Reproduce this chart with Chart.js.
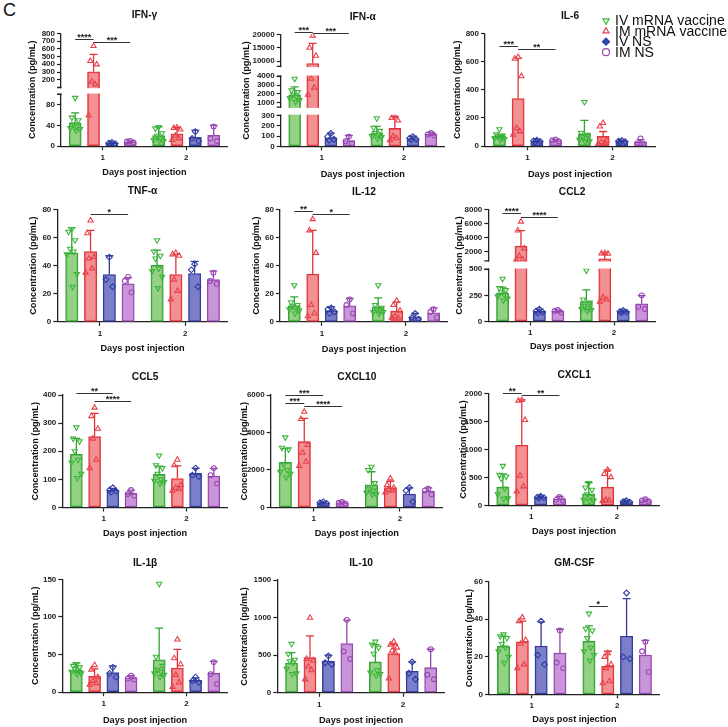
<!DOCTYPE html>
<html>
<head>
<meta charset="utf-8">
<script src="https://cdn.jsdelivr.net/npm/chart.js@4.4.1/dist/chart.umd.min.js"></script>
<style>
  html, body { margin: 0; padding: 0; background: #fff; }
  #page { position: relative; width: 728px; height: 727px; overflow: hidden; }
  #page canvas { position: absolute; }
  #tag { position: absolute; left: 3px; top: 1px; font: 18px/18px "Liberation Sans", Arial, sans-serif; color: #111; }
</style>
</head>
<body>
<div id="page"><div id="tag">C</div></div>
<script>
var FONT = '"Liberation Sans", Arial, Helvetica, sans-serif';

// groups (bar order inside each day) and x categories
var SERIES = ['IV mRNA vaccine', 'IM mRNA vaccine', 'IV NS', 'IM NS'];
var DAYS = ['1', '2'];

// values: [series][day], points: [series][day][mouse]
// stars: [from series, to series, day index, y value of the line, label]

// IFN-γ
var ifngMean = [[45, 20.6], [303, 24], [6, 17], [8, 21]];
var ifngErr = [[64, 37], [528, 36], [8, 31], [10, 40]];
var ifngPts = [
    [[93, 55, 50, 42, 38, 35, 33, 30], [37, 34, 25, 20, 15, 12, 10, 10]],
    [[636, 442, 398, 175, 140, 59], [36, 35, 32, 20, 15, 12]],
    [[7, 6, 5, 5], [28, 15, 10]],
    [[10, 9, 7], [38, 15, 10]]
];
var ifngTicks = [0, 40, 80, 200, 300, 400, 500, 600, 700, 800];
var ifngBreaks = [[0, 100], [100, 800]];
var ifngStars = [[0, 1, 0, 722, '****'], [1, 3, 0, 683, '***']];

// IFN-α
var ifnaMean = [[1900, 132], [9100, 174], [84, 77], [58, 116]];
var ifnaErr = [[2800, 194], [16600, 290], [129, 100], [106, 135]];
var ifnaPts = [
    [[3700, 2400, 2200, 1900, 1700, 1500, 1300, 1100], [272, 180, 150, 130, 110, 100, 90, 75]],
    [[19500, 15000, 12000, 3700, 2700, 1900], [290, 275, 250, 100, 80, 60]],
    [[125, 95, 70, 60], [95, 80, 70, 65]],
    [[95, 50, 30], [130, 115, 105]]
];
var ifnaTicks = [0, 100, 200, 300, 1000, 2000, 3000, 4000, 10000, 15000, 20000];
var ifnaBreaks = [[0, 300], [500, 4000], [8000, 20000]];
var ifnaStars = [[0, 1, 0, 20700, '***'], [1, 3, 0, 20600, '***']];

// IL-6
var il6Mean = [[71, 88], [337, 69], [36, 36], [40, 28]];
var il6Err = [[83, 183], [622, 104], [45, 42], [50, 47]];
var il6Pts = [
    [[120, 85, 75, 70, 65, 55, 50, 45], [313, 95, 80, 65, 55, 45, 35, 30]],
    [[632, 620, 496, 128, 105, 81], [164, 140, 40, 30, 25, 15]],
    [[42, 38, 33, 30], [40, 35, 32, 30]],
    [[48, 40, 33], [55, 20, 15]]
];
var il6Ticks = [0, 200, 400, 600, 800];
var il6Stars = [[0, 1, 0, 710, '***'], [1, 3, 0, 686, '**']];

// TNF-α
var tnfMean = [[49, 40.4], [50, 33.7], [33.7, 34.4], [27, 30]];
var tnfErr = [[67, 51], [65, 48], [47, 43], [31.5, 36]];
var tnfPts = [
    [[66, 64, 58, 52, 50, 48, 34, 25], [58, 50, 47, 45, 38, 36, 32, 24]],
    [[72, 63, 46, 45, 38, 35], [49, 48, 47, 30, 22, 16]],
    [[46, 30, 25], [41, 37, 25]],
    [[32, 29, 21], [35, 29, 27]]
];
var tnfTicks = [0, 20, 40, 60, 80];
var tnfStars = [[1, 3, 0, 77, '*']];

// IL-12
var il12Mean = [[11.4, 10.7], [34, 7.6], [8, 3.6], [11.4, 6.4]];
var il12Err = [[17.8, 17], [65, 14], [10.7, 6], [16.6, 10]];
var il12Pts = [
    [[26, 14, 12, 11, 10, 9, 8, 6], [26, 12, 10, 9, 8, 7, 7, 6]],
    [[73, 65, 49, 12, 6, 4], [15, 12, 8, 4, 3, 3]],
    [[10, 9, 7, 6], [6, 3, 2]],
    [[16, 12, 6], [9, 7, 3]]
];
var il12Ticks = [0, 20, 40, 60, 80];
var il12Stars = [[0, 1, 0, 79, '**'], [1, 3, 0, 77, '*']];

// CCL2
var ccl2Mean = [[271, 191], [2800, 985], [96, 96], [96, 169]];
var ccl2Err = [[328, 303], [4980, 1830], [118, 111], [111, 248]];
var ccl2Pts = [
    [[408, 320, 300, 280, 260, 240, 220, 200], [487, 210, 180, 150, 130, 120, 110, 100]],
    [[6250, 5000, 2470, 1400, 900, 850], [1800, 1760, 1720, 230, 210, 190]],
    [[118, 100, 90, 80], [105, 95, 90, 85]],
    [[110, 100, 85], [250, 140, 120]]
];
var ccl2Ticks = [0, 250, 500, 2000, 4000, 6000, 8000];
var ccl2Breaks = [[0, 500], [700, 8000]];
var ccl2Stars = [[0, 1, 0, 7440, '****'], [1, 3, 0, 6960, '****']];

// CCL5
var ccl5Mean = [[189, 117.5], [252, 103], [62, 121], [50, 112]];
var ccl5Err = [[246, 147], [335, 148], [68, 139], [62, 139]];
var ccl5Pts = [
    [[285, 245, 235, 200, 170, 160, 120, 105], [185, 150, 140, 120, 100, 95, 90, 85]],
    [[355, 325, 280, 245, 170, 140], [170, 150, 80, 70, 65, 60]],
    [[70, 62, 58, 55], [140, 115, 110]],
    [[62, 48, 42], [140, 115, 85]]
];
var ccl5Ticks = [0, 100, 200, 300, 400];
var ccl5Stars = [[0, 2, 0, 406, '**'], [1, 3, 0, 380, '****']];

// CXCL10
var cxcl10Mean = [[2404, 1210], [3509, 1068], [250, 712], [250, 872]];
var cxcl10Err = [[3152, 1905], [4755, 1400], [300, 1050], [300, 1050]];
var cxcl10Pts = [
    [[3740, 3190, 3100, 2300, 2000, 1900, 1800, 1600], [2170, 2000, 1300, 1000, 900, 800, 700, 700]],
    [[5110, 4720, 3330, 2920, 2440, 2210], [1550, 1200, 1050, 950, 900, 800]],
    [[300, 260, 220, 200], [1050, 900, 300]],
    [[290, 250, 200], [1000, 900, 700]]
];
var cxcl10Ticks = [0, 2000, 4000, 6000];
var cxcl10Stars = [[0, 2, 0, 6000, '***'], [0, 1, 0, 5557, '***'], [1, 3, 0, 5414, '****']];

// CXCL1
var cxcl1Mean = [[326, 208], [1074, 326], [148, 71], [113, 89]];
var cxcl1Err = [[564, 410], [1881, 635], [172, 89], [160, 113]];
var cxcl1Pts = [
    [[706, 546, 516, 480, 300, 200, 130, 120], [400, 320, 280, 200, 150, 100, 90, 80]],
    [[1880, 1870, 1525, 530, 340, 250], [635, 560, 505, 100, 90, 80]],
    [[165, 150, 140, 130], [85, 70, 60, 65]],
    [[150, 100, 90], [110, 90, 70]]
];
var cxcl1Ticks = [0, 500, 1000, 1500, 2000];
var cxcl1Stars = [[0, 1, 0, 2000, '**'], [1, 3, 0, 1970, '**']];

// IL-1β
var il1bMean = [[29, 43], [21, 32], [26, 15.6], [19, 25]];
var il1bErr = [[39, 85], [31, 57], [35, 19], [22, 41]];
var il1bPts = [
    [[37, 35, 33, 31, 29, 27, 25, 24], [144, 47, 35, 30, 27, 25, 23, 20]],
    [[36, 30, 20, 15, 12, 10], [70, 45, 37, 23, 13, 7]],
    [[33, 25, 20], [20, 15, 13]],
    [[22, 18, 17], [40, 24, 11]]
];
var il1bTicks = [0, 50, 100, 150];

// IL-10
var il10Mean = [[396, 410], [467, 521], [423, 285], [654, 334]];
var il10Err = [[534, 640], [757, 645], [500, 410], [966, 579]];
var il10Pts = [
    [[650, 520, 440, 420, 400, 320, 260, 250], [680, 640, 600, 520, 300, 270, 250, 230]],
    [[997, 450, 430, 350, 300, 178], [680, 640, 600, 560, 530, 190]],
    [[490, 400, 380], [410, 260, 180]],
    [[970, 550, 450], [580, 240, 180]]
];
var il10Ticks = [0, 500, 1000, 1500];

// GM-CSF
var gmcsfMean = [[25.6, 28.3], [28, 15], [25.8, 31], [22, 21]];
var gmcsfErr = [[31, 36.5], [39, 23], [38.6, 51], [34.7, 28.8]];
var gmcsfPts = [
    [[32, 31, 30, 27, 25, 23, 20, 17], [43, 35, 34, 30, 25, 23, 21, 18]],
    [[41, 39, 29, 27, 16, 14], [22, 20, 16, 14, 7, 6]],
    [[39, 21, 16], [54, 20, 19]],
    [[34, 17, 14], [28, 23, 12]]
];
var gmcsfTicks = [0, 20, 40, 60];
var gmcsfStars = [[0, 1, 1, 47, '*']];

// styles
var BAR_FILL = ['rgba(128, 202, 112, 0.85)', 'rgba(240, 124, 128, 0.85)', 'rgba(112, 116, 196, 0.92)', 'rgba(196, 140, 214, 0.92)'];
var BAR_EDGE = ['#34a234', '#e0343c', '#35399a', '#9446ad'];
var DOT_EDGE = ['#3db53a', '#e8414a', '#2f3ea3', '#9a47b3'];
var DOT_STYLE = ['triangle', 'triangle', 'rectRot', 'circle'];
var DOT_ROT = [180, 0, 0, 0];
var DOT_R = [3, 3, 2.9, 2.4];
var LEGEND_FILL = ['rgba(0,0,0,0)', 'rgba(0,0,0,0)', '#2b4fb0', 'rgba(0,0,0,0)'];
var JITTER = [0, -0.6, 0.6, -0.3, 0.3, -0.9, 0.9, 0.15];
var GROUP_SLOT = 0.22;   // bar spacing inside a day, in day units
var BAR_FRAC = 0.65;     // bar width / slot

var panels = [
    { name: 'IFN-γ', mean: ifngMean, err: ifngErr, pts: ifngPts, ticks: ifngTicks, breaks: ifngBreaks, stars: ifngStars,
      geo: { yTitleX: 33, axisX: 61, axisRight: 230, yTop: 33.3, yBottom: 145.7, titleY: 15, xTitleY: 172, frac: [[0, 0.46], [0.52, 1]] } },
    { name: 'IFN-α', mean: ifnaMean, err: ifnaErr, pts: ifnaPts, ticks: ifnaTicks, breaks: ifnaBreaks, stars: ifnaStars,
      geo: { yTitleX: 247, axisX: 280.7, axisRight: 447, yTop: 34.3, yBottom: 146, titleY: 16.7, xTitleY: 174, frac: [[0, 0.2775], [0.35, 0.627], [0.7135, 1]] } },
    { name: 'IL-6', mean: il6Mean, err: il6Err, pts: il6Pts, ticks: il6Ticks, stars: il6Stars, legend: true,
      geo: { yTitleX: 458, axisX: 485, axisRight: 655, yTop: 33.3, yBottom: 145.7, titleY: 16, xTitleY: 174, padRight: 73 } },
    { name: 'TNF-α', mean: tnfMean, err: tnfErr, pts: tnfPts, ticks: tnfTicks, stars: tnfStars,
      geo: { yTitleX: 34, axisX: 57.3, axisRight: 230, yTop: 209.3, yBottom: 321.7, titleY: 190.7, xTitleY: 348.3 } },
    { name: 'IL-12', mean: il12Mean, err: il12Err, pts: il12Pts, ticks: il12Ticks, stars: il12Stars,
      geo: { yTitleX: 256.7, axisX: 280, axisRight: 450, yTop: 209.3, yBottom: 321.7, titleY: 191.7, xTitleY: 349.3 } },
    { name: 'CCL2', mean: ccl2Mean, err: ccl2Err, pts: ccl2Pts, ticks: ccl2Ticks, breaks: ccl2Breaks, stars: ccl2Stars,
      geo: { yTitleX: 460, axisX: 488.3, axisRight: 658.3, yTop: 209.3, yBottom: 321.7, titleY: 191.7, xTitleY: 346.7, frac: [[0, 0.466], [0.54, 1]] } },
    { name: 'CCL5', mean: ccl5Mean, err: ccl5Err, pts: ccl5Pts, ticks: ccl5Ticks, stars: ccl5Stars,
      geo: { yTitleX: 36, axisX: 62.3, axisRight: 230, yTop: 395, yBottom: 507.3, titleY: 377.3, xTitleY: 533.3 } },
    { name: 'CXCL10', mean: cxcl10Mean, err: cxcl10Err, pts: cxcl10Pts, ticks: cxcl10Ticks, stars: cxcl10Stars,
      geo: { yTitleX: 245, axisX: 270.7, axisRight: 445, yTop: 395, yBottom: 507.3, titleY: 377.3, xTitleY: 533.3 } },
    { name: 'CXCL1', mean: cxcl1Mean, err: cxcl1Err, pts: cxcl1Pts, ticks: cxcl1Ticks, stars: cxcl1Stars,
      geo: { yTitleX: 463.3, axisX: 488.3, axisRight: 661.7, yTop: 393.3, yBottom: 505.7, titleY: 375, xTitleY: 531.7 } },
    { name: 'IL-1β', mean: il1bMean, err: il1bErr, pts: il1bPts, ticks: il1bTicks, stars: [],
      geo: { yTitleX: 36, axisX: 62.3, axisRight: 230, yTop: 579.3, yBottom: 691.7, titleY: 563.3, xTitleY: 720 } },
    { name: 'IL-10', mean: il10Mean, err: il10Err, pts: il10Pts, ticks: il10Ticks, stars: [],
      geo: { yTitleX: 245, axisX: 277.3, axisRight: 446.7, yTop: 580, yBottom: 692.3, titleY: 563.3, xTitleY: 720 } },
    { name: 'GM-CSF', mean: gmcsfMean, err: gmcsfErr, pts: gmcsfPts, ticks: gmcsfTicks, stars: gmcsfStars,
      geo: { yTitleX: 470, axisX: 489, axisRight: 661.7, yTop: 581.7, yBottom: 694, titleY: 563.3, xTitleY: 719 } }
];

// legend place (page pixels)
var LEGEND_X = 606, LEGEND_TEXT_X = 615, LEGEND_Y = 20.7, LEGEND_STEP = 10.5;

/**
 * Fraction of the axis height for a value on a broken axis
 */
function brokenDecimal(breaks, frac, v) {
    for (var i = 0; i < breaks.length; i++) {
        var s = breaks[i], f = frac[i];
        if (v <= s[1] || i === breaks.length - 1) {
            if (v < s[0] && i > 0) {
                var ps = breaks[i - 1], pf = frac[i - 1];
                return pf[1] + (v - ps[1]) / (s[0] - ps[1]) * (f[0] - pf[1]);
            }
            return f[0] + (v - s[0]) / (s[1] - s[0]) * (f[1] - f[0]);
        }
    }
    return 0;
}

// centre of a bar on the hidden linear x axis (day 1 -> 1, day 2 -> 2)
function groupX(d, s) {
    return d + 1 + (s - 1.5) * GROUP_SLOT;
}

/**
 * Scatter points of one group, spread a little around the bar centre
 */
function dotData(pts, s) {
    var out = [];
    for (var d = 0; d < DAYS.length; d++) {
        pts[s][d].forEach(function(v, i) {
            out.push({ x: groupX(d, s) + JITTER[i % JITTER.length] * 0.065, y: v });
        });
    }
    return out;
}

function drawMarker(ctx, s, x, y, r, fill) {
    ctx.save();
    ctx.strokeStyle = DOT_EDGE[s];
    ctx.fillStyle = fill;
    ctx.lineWidth = 1.2;
    Chart.helpers.drawPoint(ctx, { pointStyle: DOT_STYLE[s], rotation: DOT_ROT[s], radius: r, borderWidth: 1.2 }, x, y);
    ctx.restore();
}

/**
 * Error bars, axis breaks, significance lines and the legend
 */
function extrasPlugin(p, left, top) {
    return {
        id: 'extras',
        afterDatasetDraw: function(chart, args) {
            if (args.index > 3) return;
            var s = args.index, yScale = chart.scales.y, ctx = chart.ctx;
            ctx.save();
            ctx.strokeStyle = BAR_EDGE[s];
            ctx.lineWidth = 1.3;
            args.meta.data.forEach(function(bar, d) {
                var y0 = yScale.getPixelForValue(p.mean[s][d]);
                var y1 = yScale.getPixelForValue(p.err[s][d]);
                ctx.beginPath();
                ctx.moveTo(bar.x, y0);
                ctx.lineTo(bar.x, y1);
                ctx.moveTo(bar.x - 4, y1);
                ctx.lineTo(bar.x + 4, y1);
                ctx.stroke();
            });
            ctx.restore();
        },
        afterDatasetsDraw: function(chart) {
            var ctx = chart.ctx, yScale = chart.scales.y, ca = chart.chartArea;
            ctx.save();
            if (p.breaks) {
                var frac = p.geo.frac;
                for (var i = 0; i < frac.length - 1; i++) {
                    var yLo = yScale.getPixelForDecimal(frac[i][1]);
                    var yHi = yScale.getPixelForDecimal(frac[i + 1][0]);
                    ctx.fillStyle = '#fff';
                    ctx.fillRect(ca.left - 6, yHi + 0.7, ca.right - ca.left + 8, yLo - yHi - 1.4);
                    ctx.strokeStyle = '#222';
                    ctx.lineWidth = 1.3;
                    ctx.beginPath();
                    ctx.moveTo(ca.left - 4, yLo);
                    ctx.lineTo(ca.left + 0.6, yLo);
                    ctx.moveTo(ca.left - 4, yHi);
                    ctx.lineTo(ca.left + 0.6, yHi);
                    ctx.stroke();
                }
            }
            ctx.strokeStyle = '#333';
            ctx.fillStyle = '#222';
            ctx.lineWidth = 1;
            ctx.font = 'bold 9px ' + FONT;
            ctx.textAlign = 'center';
            ctx.textBaseline = 'alphabetic';
            (p.stars || []).forEach(function(st) {
                var xa = chart.getDatasetMeta(st[0]).data[st[2]].x;
                var xb = chart.getDatasetMeta(st[1]).data[st[2]].x;
                var yy = Math.round(yScale.getPixelForValue(st[3])) + 0.5;
                ctx.beginPath();
                ctx.moveTo(xa, yy);
                ctx.lineTo(xb, yy);
                ctx.stroke();
                ctx.fillText(st[4], (xa + xb) / 2, yy + 0.5);
            });
            ctx.restore();
        },
        afterDraw: function(chart) {
            if (!p.legend) return;
            var ctx = chart.ctx;
            ctx.save();
            ctx.font = '14px ' + FONT;
            ctx.fillStyle = '#111';
            ctx.textAlign = 'left';
            ctx.textBaseline = 'middle';
            SERIES.forEach(function(name, s) {
                var y = LEGEND_Y + s * LEGEND_STEP - top;
                drawMarker(ctx, s, LEGEND_X - left, y, 3.5, LEGEND_FILL[s]);
                ctx.fillText(name, LEGEND_TEXT_X - left, y + 0.5);
            });
            ctx.restore();
        }
    };
}

function makePanel(p, k) {
    var g = p.geo;
    var lhTitle = 10.2 * 1.2, lhAxis = 9.2 * 1.2;
    var left = Math.round(g.yTitleX - lhAxis / 2);
    var top = Math.round(g.titleY - lhTitle / 2);
    var padR = g.padRight || 3;
    var width = Math.round(g.axisRight + padR - left);
    var yw = g.axisX - left;
    var xh = g.xTitleY + lhAxis / 2 - g.yBottom;
    var height = Math.round(g.yBottom + xh - top);
    var titlePad = g.yTop - top - lhTitle;
    var barPx = (g.axisRight - g.axisX) / 2 * GROUP_SLOT * BAR_FRAC;

    var cv = document.createElement('canvas');
    cv.id = 'panel' + k;
    cv.width = width;
    cv.height = height;
    cv.style.left = left + 'px';
    cv.style.top = top + 'px';
    cv.style.width = width + 'px';
    cv.style.height = height + 'px';
    document.getElementById('page').appendChild(cv);

    var datasets = [];
    SERIES.forEach(function(name, s) {
        datasets.push({
            type: 'bar',
            label: name,
            xAxisID: 'x2',
            data: p.mean[s].map(function(v, d) { return { x: groupX(d, s), y: v }; }),
            backgroundColor: BAR_FILL[s],
            borderColor: BAR_EDGE[s],
            borderWidth: 1.3,
            borderSkipped: false,
            grouped: false,
            barThickness: barPx,
            order: 2
        });
    });
    SERIES.forEach(function(name, s) {
        datasets.push({
            type: 'scatter',
            label: name,
            xAxisID: 'x2',
            data: dotData(p.pts, s),
            showLine: false,
            pointStyle: DOT_STYLE[s],
            pointRotation: DOT_ROT[s],
            pointRadius: DOT_R[s],
            pointBorderWidth: 1.1,
            pointBorderColor: DOT_EDGE[s],
            pointBackgroundColor: 'rgba(0,0,0,0)',
            order: 1
        });
    });

    var axisFont = { family: FONT, size: 9.2, weight: 'bold', lineHeight: 1.2 };
    var tickFont = { family: FONT, size: 8, weight: 'bold' };

    new Chart(cv, {
        type: 'bar',
        data: { labels: DAYS, datasets: datasets },
        options: {
            responsive: false,
            animation: false,
            devicePixelRatio: 1,
            layout: { padding: { left: 0, right: padR, top: 0, bottom: 0 } },
            plugins: {
                legend: { display: false },
                tooltip: { enabled: false },
                title: {
                    display: true,
                    text: p.name,
                    fullSize: false,
                    color: '#111',
                    padding: { top: 0, bottom: titlePad },
                    font: { family: FONT, size: 10.2, weight: 'bold', lineHeight: 1.2 }
                }
            },
            scales: {
                x: {
                    type: 'category',
                    offset: true,
                    grid: { display: true, drawOnChartArea: false, offset: false, tickLength: 4, tickWidth: 1.2, tickColor: '#222' },
                    border: { color: '#222', width: 1.3 },
                    ticks: { font: tickFont, color: '#222', padding: 3, maxRotation: 0, autoSkip: false },
                    title: { display: true, text: 'Days post injection', color: '#111', font: axisFont, padding: 0 },
                    afterFit: function(axis) { axis.height = xh; }
                },
                x2: { type: 'linear', display: false, offset: false, min: 0.5, max: 2.5 },
                y: {
                    type: 'linear',
                    min: 0,
                    max: p.ticks[p.ticks.length - 1],
                    grid: { display: true, drawOnChartArea: false, tickLength: 4, tickWidth: 1.2, tickColor: '#222' },
                    border: { color: '#222', width: 1.3 },
                    ticks: { font: tickFont, color: '#222', padding: 2, autoSkip: false, callback: function(v) { return String(v); } },
                    title: { display: true, text: 'Concentration (pg/mL)', color: '#111', font: axisFont, padding: 0 },
                    afterBuildTicks: function(axis) {
                        axis.ticks = p.ticks.map(function(v) { return { value: v }; });
                        if (p.breaks) {
                            axis.getPixelForValue = function(v) {
                                return axis.getPixelForDecimal(brokenDecimal(p.breaks, g.frac, v));
                            };
                        }
                    },
                    afterFit: function(axis) { axis.width = yw; }
                }
            }
        },
        plugins: [extrasPlugin(p, left, top)]
    });
}

panels.forEach(makePanel);
</script>
</body>
</html>
